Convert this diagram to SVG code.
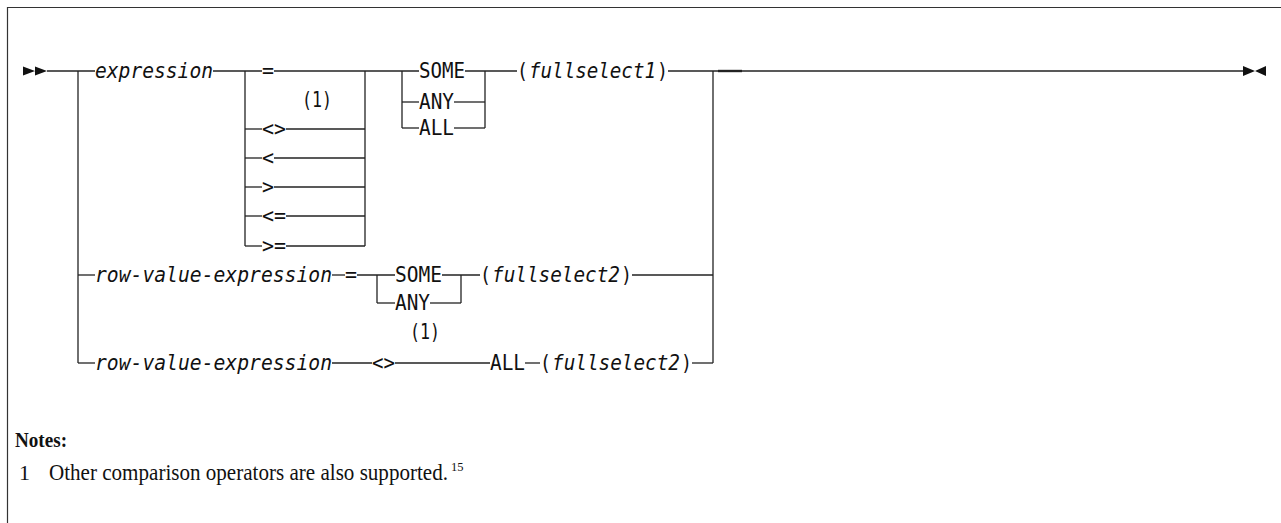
<svg xmlns="http://www.w3.org/2000/svg" width="1281" height="523" viewBox="0 0 1281 523">
<style>
.t{font-family:"DejaVu Sans Mono",monospace;font-size:20.5px;fill:#111}
.i{font-style:italic}
.c line,.c path{stroke:#222;stroke-width:1.3;fill:none}
.m{fill:#111}
.n{font-family:"Liberation Serif",serif;fill:#111}
</style>
<rect width="1281" height="523" fill="#fff"/>
<path d="M7.5 530 V7.5 H1290" stroke="#333" stroke-width="1.2" fill="none"/>
<g id="start"><path class="m" d="M23 66.5 L35 71 L23 75.5 Z M35 66.5 L47 71 L35 75.5 Z"/></g>
<g id="end"><path class="m" d="M1243 66 L1255 71 L1243 76 Z M1266 66 L1255 71 L1266 76 Z"/></g>
<g class="c" id="connectors">
<line x1="47" y1="71" x2="95" y2="71"/>
<line x1="213" y1="71" x2="262" y2="71"/>
<line x1="274" y1="71" x2="419" y2="71"/>
<line x1="465" y1="71" x2="517" y2="71"/>
<line x1="668" y1="71" x2="1243" y2="71"/>
<line x1="718" y1="71" x2="742" y2="71" style="stroke-width:2.4"/>
<line x1="78" y1="71" x2="78" y2="363"/>
<line x1="78" y1="275" x2="95" y2="275"/>
<line x1="78" y1="363" x2="95" y2="363"/>
<line x1="245" y1="71" x2="245" y2="246"/>
<line x1="365" y1="71" x2="365" y2="246"/>
<line x1="245" y1="129" x2="262" y2="129"/><line x1="286" y1="129" x2="365" y2="129"/>
<line x1="245" y1="158" x2="262" y2="158"/><line x1="274" y1="158" x2="365" y2="158"/>
<line x1="245" y1="187" x2="262" y2="187"/><line x1="274" y1="187" x2="365" y2="187"/>
<line x1="245" y1="216" x2="262" y2="216"/><line x1="286" y1="216" x2="365" y2="216"/>
<line x1="245" y1="246" x2="262" y2="246"/><line x1="286" y1="246" x2="365" y2="246"/>
<line x1="402" y1="71" x2="402" y2="128"/>
<line x1="402" y1="102" x2="419" y2="102"/><line x1="454" y1="102" x2="485" y2="102"/>
<line x1="402" y1="128" x2="419" y2="128"/><line x1="454" y1="128" x2="485" y2="128"/>
<line x1="485" y1="71" x2="485" y2="128"/>
<line x1="713" y1="71" x2="713" y2="363"/>
<line x1="332" y1="275" x2="345" y2="275"/>
<line x1="357" y1="275" x2="395" y2="275"/>
<line x1="377" y1="275" x2="377" y2="303"/>
<line x1="377" y1="303" x2="395" y2="303"/>
<line x1="442" y1="275" x2="480" y2="275"/>
<line x1="430" y1="303" x2="461" y2="303"/>
<line x1="461" y1="275" x2="461" y2="303"/>
<line x1="632" y1="275" x2="713" y2="275"/>
<line x1="332" y1="363" x2="372" y2="363"/>
<line x1="395" y1="363" x2="490" y2="363"/>
<line x1="525" y1="363" x2="540" y2="363"/>
<line x1="692" y1="363" x2="713" y2="363"/>
</g>
<g id="n-expression"><text class="t i" x="95" y="78" textLength="118" lengthAdjust="spacingAndGlyphs">expression</text></g>
<g id="n-eq"><text class="t" x="262" y="78" textLength="12" lengthAdjust="spacingAndGlyphs">=</text></g>
<g id="n-note1a"><text class="t" x="302" y="107" textLength="30" lengthAdjust="spacingAndGlyphs">(1)</text></g>
<g id="n-ne"><text class="t" x="262" y="136" textLength="24" lengthAdjust="spacingAndGlyphs">&lt;&gt;</text></g>
<g id="n-lt"><text class="t" x="262" y="165" textLength="12" lengthAdjust="spacingAndGlyphs">&lt;</text></g>
<g id="n-gt"><text class="t" x="262" y="194" textLength="12" lengthAdjust="spacingAndGlyphs">&gt;</text></g>
<g id="n-le"><text class="t" x="262" y="223" textLength="24" lengthAdjust="spacingAndGlyphs">&lt;=</text></g>
<g id="n-ge"><text class="t" x="262" y="253" textLength="24" lengthAdjust="spacingAndGlyphs">&gt;=</text></g>
<g id="n-some1"><text class="t" x="419" y="78" textLength="46" lengthAdjust="spacingAndGlyphs">SOME</text></g>
<g id="n-any1"><text class="t" x="419" y="109" textLength="35" lengthAdjust="spacingAndGlyphs">ANY</text></g>
<g id="n-all1"><text class="t" x="419" y="135" textLength="35" lengthAdjust="spacingAndGlyphs">ALL</text></g>
<g id="n-fs1">
<text class="t" x="517" y="78" textLength="11" lengthAdjust="spacingAndGlyphs">(</text>
<text class="t i" x="529" y="78" textLength="127" lengthAdjust="spacingAndGlyphs">fullselect1</text>
<text class="t" x="657" y="78" textLength="11" lengthAdjust="spacingAndGlyphs">)</text>
</g>
<g id="n-rve1"><text class="t i" x="95" y="282" textLength="237" lengthAdjust="spacingAndGlyphs">row-value-expression</text></g>
<g id="n-eq2"><text class="t" x="345" y="282" textLength="12" lengthAdjust="spacingAndGlyphs">=</text></g>
<g id="n-some2"><text class="t" x="395" y="282" textLength="47" lengthAdjust="spacingAndGlyphs">SOME</text></g>
<g id="n-any2"><text class="t" x="395" y="310" textLength="35" lengthAdjust="spacingAndGlyphs">ANY</text></g>
<g id="n-fs2a">
<text class="t" x="480" y="282" textLength="11" lengthAdjust="spacingAndGlyphs">(</text>
<text class="t i" x="492" y="282" textLength="128" lengthAdjust="spacingAndGlyphs">fullselect2</text>
<text class="t" x="621" y="282" textLength="11" lengthAdjust="spacingAndGlyphs">)</text>
</g>
<g id="n-rve2"><text class="t i" x="95" y="370" textLength="237" lengthAdjust="spacingAndGlyphs">row-value-expression</text></g>
<g id="n-ne2"><text class="t" x="372" y="370" textLength="23" lengthAdjust="spacingAndGlyphs">&lt;&gt;</text></g>
<g id="n-note1b"><text class="t" x="410" y="339" textLength="30" lengthAdjust="spacingAndGlyphs">(1)</text></g>
<g id="n-all2"><text class="t" x="490" y="370" textLength="35" lengthAdjust="spacingAndGlyphs">ALL</text></g>
<g id="n-fs2b">
<text class="t" x="540" y="370" textLength="11" lengthAdjust="spacingAndGlyphs">(</text>
<text class="t i" x="552" y="370" textLength="128" lengthAdjust="spacingAndGlyphs">fullselect2</text>
<text class="t" x="681" y="370" textLength="11" lengthAdjust="spacingAndGlyphs">)</text>
</g>
<g id="notes">
<text class="n" x="15" y="447" font-size="21" font-weight="bold" textLength="52" lengthAdjust="spacingAndGlyphs">Notes:</text>
<text class="n" x="19" y="480" font-size="22">1</text>
<text class="n" x="49" y="480" font-size="22.5" textLength="399" lengthAdjust="spacingAndGlyphs">Other comparison operators are also supported.</text>
<text class="n" x="451" y="471" font-size="12.5">15</text>
</g>
</svg>
